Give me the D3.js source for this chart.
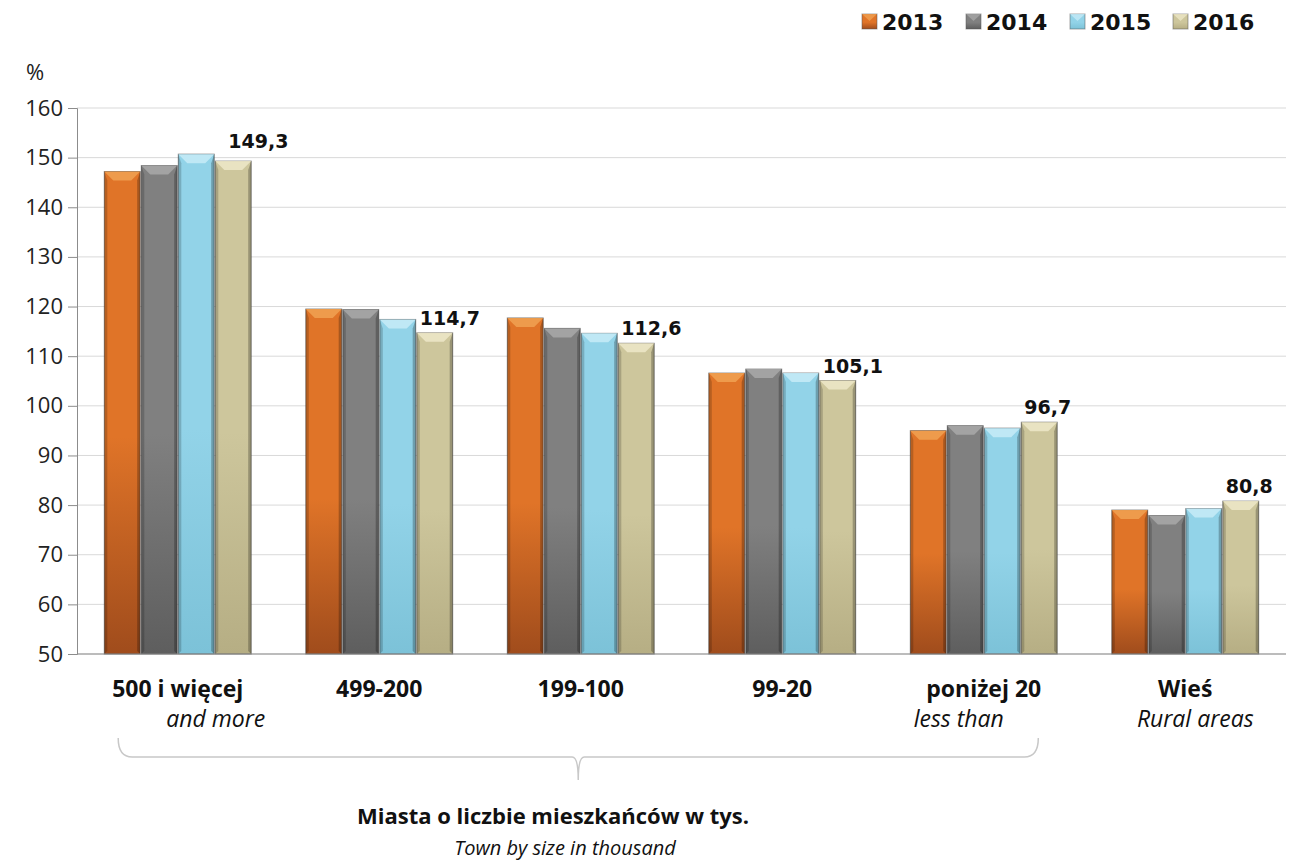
<!DOCTYPE html>
<html>
<head>
<meta charset="utf-8">
<script src="https://cdn.jsdelivr.net/npm/d3@7"></script>
<style>
  body { margin: 0; background: #fff; }
  text { font-family: "Open Sans", "Noto Sans", sans-serif; }
</style>
</head>
<body>
<svg id="chart" width="1292" height="861"></svg>
<script>
const categories = ['500 i więcej', '499-200', '199-100', '99-20', 'poniżej 20', 'Wieś']
const subLabels = ['and more', '', '', '', 'less than', 'Rural areas']
const years = ['2013', '2014', '2015', '2016']
const v2013 = [147.2, 119.5, 117.7, 106.6, 95.0, 79.0]
const v2014 = [148.4, 119.4, 115.6, 107.4, 96.0, 77.9]
const v2015 = [150.7, 117.4, 114.6, 106.6, 95.5, 79.3]
const v2016 = [149.3, 114.7, 112.6, 105.1, 96.7, 80.8]
const yTicks = [50, 60, 70, 80, 90, 100, 110, 120, 130, 140, 150, 160]

const series = [v2013, v2014, v2015, v2016]
const colors = {
  '2013': {top: '#f0a050', mid: '#e07428', bot: '#a04c1c'},
  '2014': {top: '#a6a6a6', mid: '#808080', bot: '#5e5e5e'},
  '2015': {top: '#c4eaf6', mid: '#92d3e8', bot: '#7cc2d8'},
  '2016': {top: '#ece6c6', mid: '#cdc69c', bot: '#b6ae84'}
}

const svg = d3.select('#chart')
const mLeft = 77, mRight = 1286, mTop = 108, mBottom = 654

const x = d3.scaleBand().domain(categories).range([mLeft, mRight]).paddingInner(0.26).paddingOuter(0.13)
const xs = d3.scaleBand().domain(years).range([0, x.bandwidth()]).padding(0.03)
const y = d3.scaleLinear().domain([50, 160]).range([mBottom, mTop])

const defs = svg.append('defs')
years.forEach(yr => {
  const g = defs.append('linearGradient').attr('id', 'g' + yr)
    .attr('x1', 0).attr('y1', 0).attr('x2', 0).attr('y2', 1)
  g.append('stop').attr('offset', '0%').attr('stop-color', colors[yr].mid)
  g.append('stop').attr('offset', '55%').attr('stop-color', colors[yr].mid)
  g.append('stop').attr('offset', '100%').attr('stop-color', colors[yr].bot)
})

// grid
svg.append('g').selectAll('line').data(yTicks).join('line')
  .attr('x1', mLeft).attr('x2', mRight)
  .attr('y1', d => y(d)).attr('y2', d => y(d))
  .attr('stroke', '#d9d9d9').attr('stroke-width', 1)

// y axis
const yAxis = svg.append('g').attr('transform', `translate(${mLeft},0)`)
  .call(d3.axisLeft(y).tickValues(yTicks).tickSize(9).tickPadding(5))
yAxis.select('.domain').attr('stroke', '#8c8c8c')
yAxis.selectAll('.tick line').attr('stroke', '#8c8c8c')
yAxis.selectAll('text').attr('font-size', 22).attr('fill', '#222')
  .style('font-family', '"Open Sans", sans-serif')

svg.append('text').attr('x', 35).attr('y', 80).attr('text-anchor', 'middle')
  .attr('font-size', 22).attr('fill', '#222').text('%')

// bars
const groups = svg.append('g').selectAll('g').data(categories).join('g')
  .attr('transform', d => `translate(${x(d)},0)`)

groups.each(function (cat, ci) {
  const g = d3.select(this)
  years.forEach((yr, si) => {
    const val = series[si][ci]
    const bx = xs(yr), bw = xs.bandwidth()
    const by = y(val), bh = mBottom - by
    const bev = 9
    g.append('rect').attr('x', bx).attr('y', by).attr('width', bw).attr('height', bh)
      .attr('fill', `url(#g${yr})`).attr('stroke', '#3c3c3c').attr('stroke-opacity', 0.6).attr('stroke-width', 1)
    // top bevel
    g.append('path')
      .attr('d', `M${bx},${by}L${bx + bw},${by}L${bx + bw - bev},${by + bev}L${bx + bev},${by + bev}Z`)
      .attr('fill', colors[yr].top).attr('opacity', 0.9)
    // side bevels
    g.append('path')
      .attr('d', `M${bx},${by}L${bx + 3},${by + bev}L${bx + 3},${mBottom - 3}L${bx},${mBottom}Z`)
      .attr('fill', '#000').attr('opacity', 0.18)
    g.append('path')
      .attr('d', `M${bx + bw},${by}L${bx + bw - 3},${by + bev}L${bx + bw - 3},${mBottom - 3}L${bx + bw},${mBottom}Z`)
      .attr('fill', '#000').attr('opacity', 0.25)
  })
  // value label on 2016 bar
  const first = ci === 0
  g.append('text')
    .attr('x', xs('2016') + (first ? 13 : 3)).attr('y', y(v2016[ci]) - (first ? 13 : 8))
    .attr('font-size', 19).attr('font-weight', 'bold').attr('fill', '#111')
    .style('font-family', '"DejaVu Sans", Verdana, sans-serif')
    .text(d3.format('.1f')(v2016[ci]).replace('.', ','))
})

// x axis baseline
svg.append('line').attr('x1', mLeft).attr('x2', mRight).attr('y1', mBottom).attr('y2', mBottom)
  .attr('stroke', '#8c8c8c')

// category labels
const subShift = [38, 0, 0, 0, -25, 10]
svg.append('g').selectAll('text').data(categories).join('text')
  .attr('x', d => x(d) + x.bandwidth() / 2)
  .attr('y', 697).attr('text-anchor', 'middle')
  .attr('font-size', 23).attr('font-weight', 'bold').attr('fill', '#111')
  .text(d => d)
svg.append('g').selectAll('text').data(categories).join('text')
  .attr('x', (d, i) => x(d) + x.bandwidth() / 2 + subShift[i])
  .attr('y', 727).attr('text-anchor', 'middle')
  .attr('font-size', 23).attr('font-style', 'italic').attr('fill', '#111')
  .text((d, i) => subLabels[i])

// brace under the town groups
const bx0 = x(categories[0]) + 15, bx1 = x(categories[4]) + x.bandwidth() - 20
const bmid = (bx0 + bx1) / 2
svg.append('path')
  .attr('d', `M${bx0},738 Q${bx0},757 ${bx0 + 14},757 L${bmid - 6},757 Q${bmid},757 ${bmid},780 Q${bmid},757 ${bmid + 6},757 L${bx1 - 14},757 Q${bx1},757 ${bx1},738`)
  .attr('fill', 'none').attr('stroke', '#c8c8c8').attr('stroke-width', 1.5)

svg.append('text').attr('x', 553).attr('y', 824).attr('text-anchor', 'middle')
  .attr('font-size', 22).attr('font-weight', 'bold').attr('fill', '#111')
  .text('Miasta o liczbie mieszkańców w tys.')
svg.append('text').attr('x', 565).attr('y', 855).attr('text-anchor', 'middle')
  .attr('font-size', 20).attr('font-style', 'italic').attr('fill', '#111')
  .text('Town by size in thousand')

// legend
const legendX = [862, 966, 1070, 1173]
const leg = svg.append('g').selectAll('g').data(years).join('g')
  .attr('transform', (d, i) => `translate(${legendX[i]},14)`)
leg.append('rect').attr('width', 15).attr('height', 15)
  .attr('fill', d => `url(#g${d})`).attr('stroke', '#555').attr('stroke-opacity', 0.5)
leg.append('path').attr('d', 'M0,0L15,0L7.5,7Z').attr('fill', d => colors[d].top).attr('opacity', 0.8)
leg.append('text').attr('x', 20).attr('y', 16)
  .attr('font-size', 22).attr('font-weight', 'bold').attr('fill', '#111')
  .style('font-family', '"DejaVu Sans", Verdana, sans-serif')
  .text(d => d)
</script>
</body>
</html>
